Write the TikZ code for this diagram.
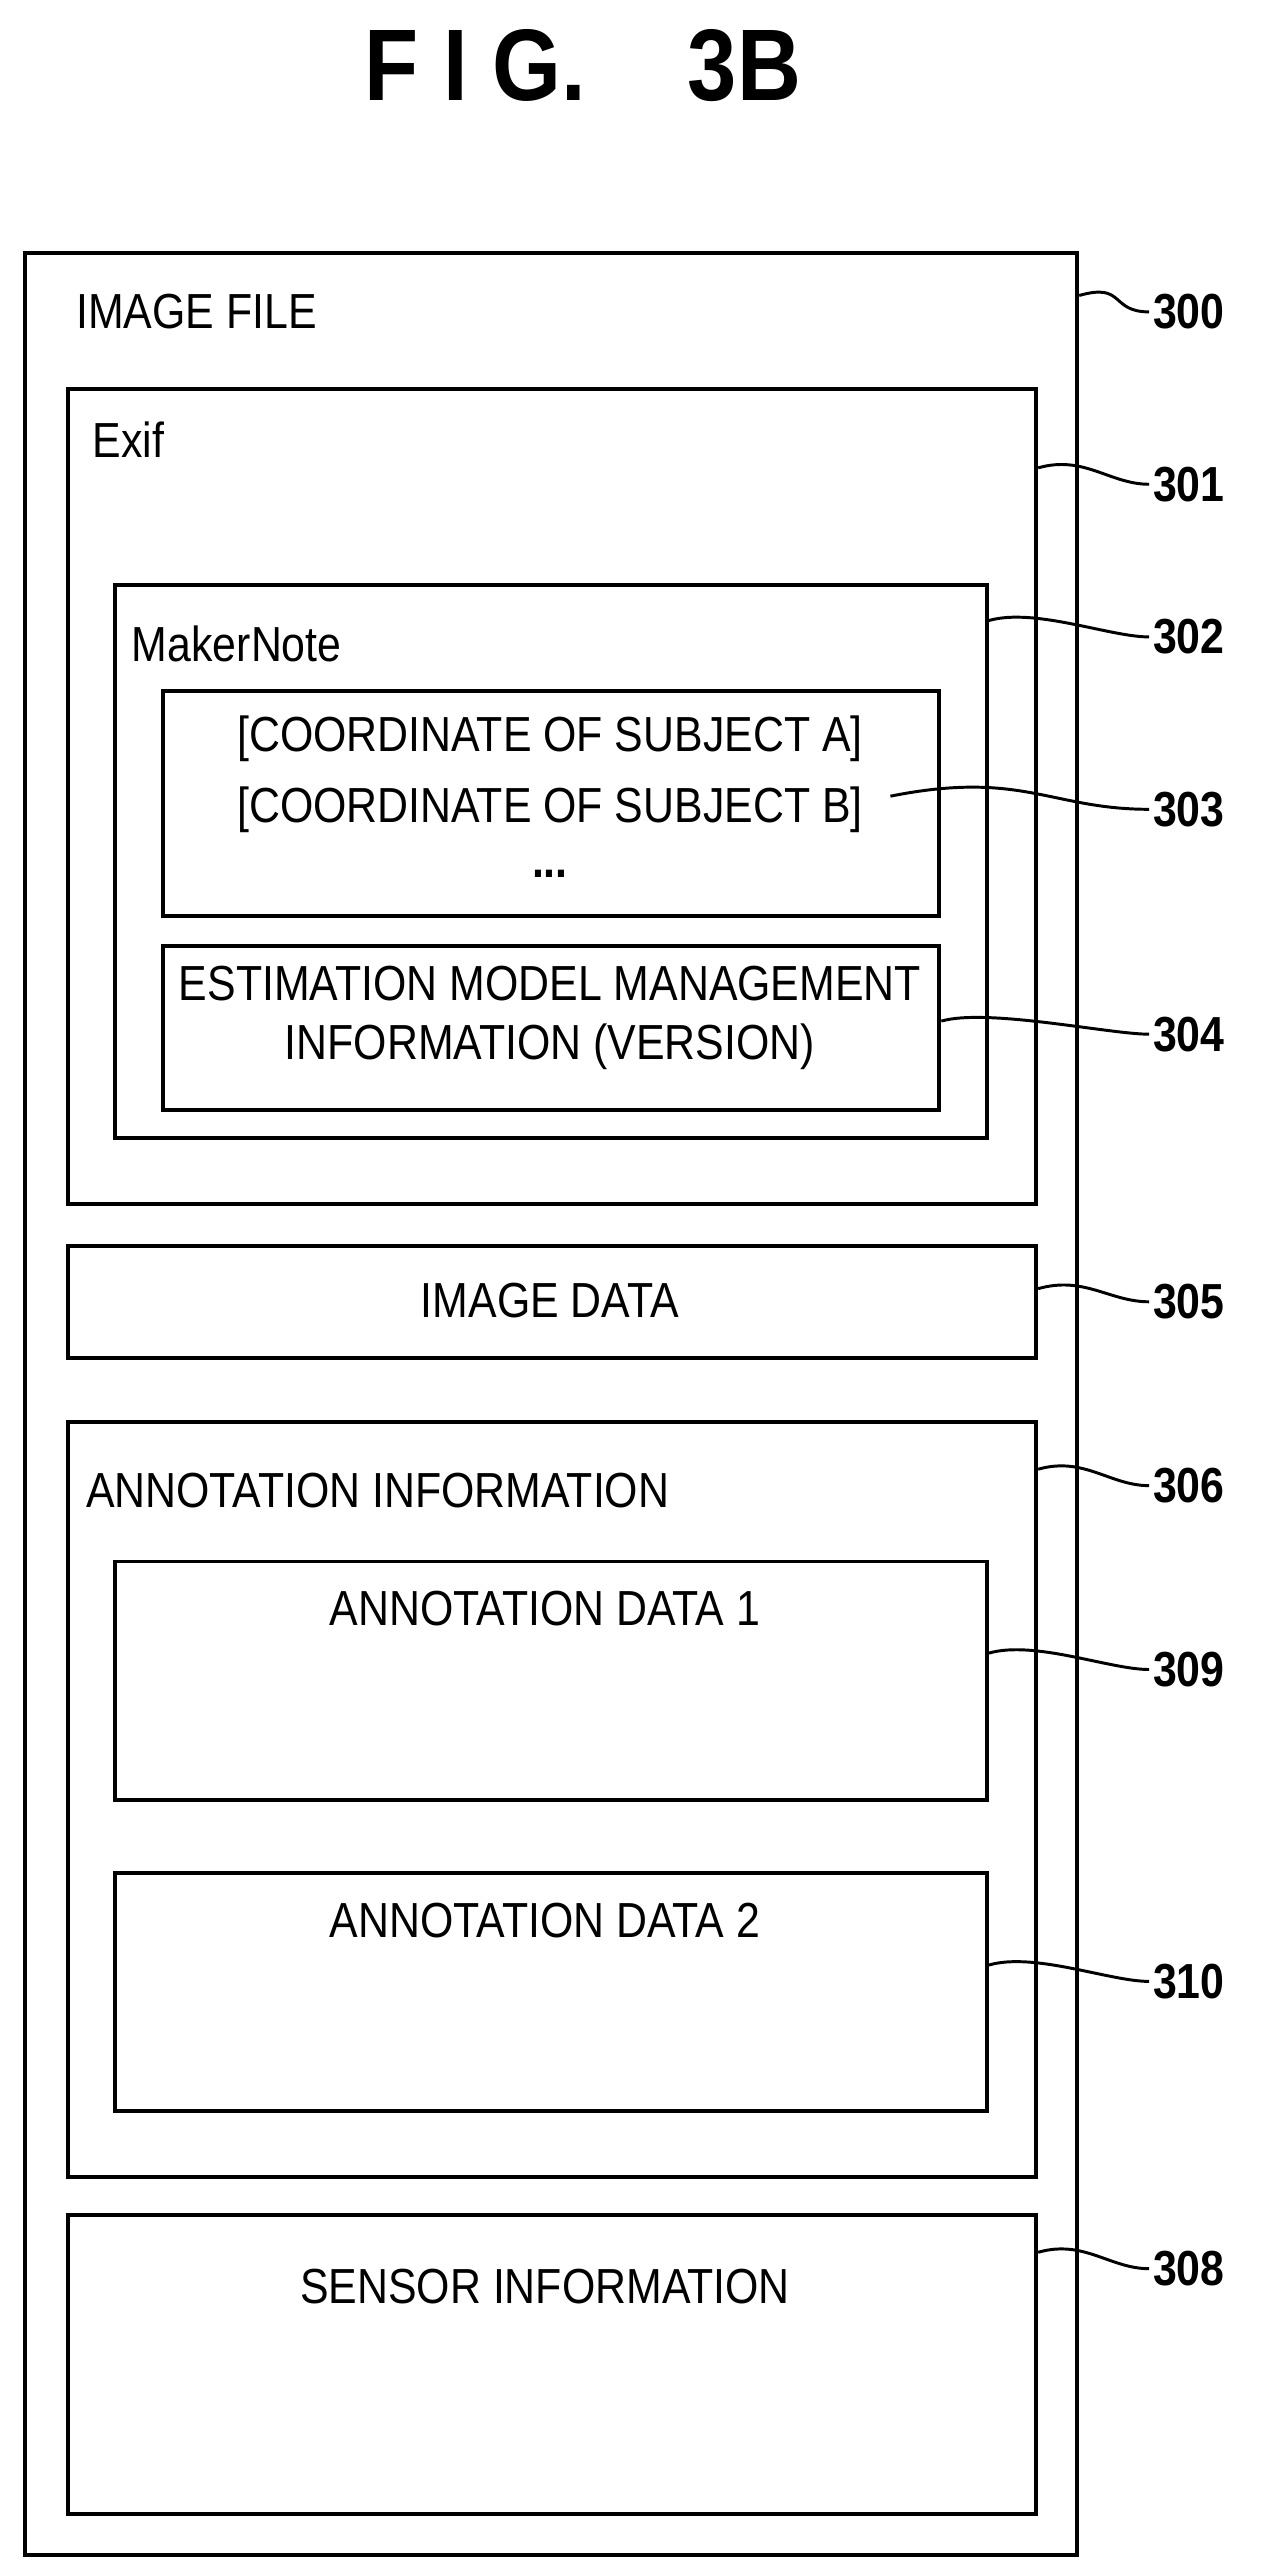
\documentclass[tikz,border=0pt]{standalone}
\usepackage{fontspec}
\setmainfont[FakeStretch=0.87]{Liberation Sans}
\usetikzlibrary{positioning,calc}
\tikzstyle{box}=[rectangle,draw,line width=1.2pt,anchor=north west,inner sep=0pt]
\tikzstyle{txt}=[inner sep=0pt,font=\fontsize{15}{18}\selectfont]
\tikzstyle{ref}=[inner sep=1pt,anchor=west,font=\fontsize{15}{18}\selectfont\bfseries]
\tikzstyle{lead}=[line width=0.9pt]
\begin{document}
\begin{tikzpicture}[x=0.5pt,y=-0.5pt]
\useasboundingbox (0,0) rectangle (770,1568.6);

\node[font=\fontsize{31}{36}\selectfont\bfseries] (title) at (355,40) {F I G.\quad 3B};

% boxes
\node[box,minimum width=320.5pt,minimum height=701pt] (file) at (14,153) {};
\node[box,minimum width=295pt,minimum height=248pt] (exif) at (40,236) {};
\node[box,minimum width=265.5pt,minimum height=168.5pt] (maker) at (69,355) {};
\node[box,minimum width=236.5pt,minimum height=68.5pt] (coord) at (98,420) {};
\node[box,minimum width=236.5pt,minimum height=50pt] (model) at (98,575) {};
\node[box,minimum width=295pt,minimum height=34pt] (data) at (40,758) {};
\node[box,minimum width=295pt,minimum height=230pt] (annot) at (40,865) {};
\node[box,minimum width=265.5pt,minimum height=72.5pt] (ann1) at (69,950) {};
\node[box,minimum width=265.5pt,minimum height=72.5pt] (ann2) at (69,1140) {};
\node[box,minimum width=295pt,minimum height=91pt] (sensor) at (40,1348) {};

% texts
\node[txt,anchor=west] at (46,190) {IMAGE FILE};
\node[txt,anchor=west] at (56,268) {Exif};
\node[txt,anchor=west] at (80,392) {MakerNote};
\node[txt] at (335,450) {[COORDINATE OF SUBJECT A]};
\node[txt] at (335,493) {[COORDINATE OF SUBJECT B]};
\node[txt,font=\fontsize{15}{18}\selectfont\bfseries] at (335,532) {...};
\node[txt,align=center] at (335,620) {ESTIMATION MODEL MANAGEMENT\\INFORMATION (VERSION)};
\node[txt] at (335,792) {IMAGE DATA};
\node[txt,anchor=west] at (52,908) {ANNOTATION INFORMATION};
\node[txt] at (332,980) {ANNOTATION DATA 1};
\node[txt] at (332,1170) {ANNOTATION DATA 2};
\node[txt] at (332,1393) {SENSOR INFORMATION};

% reference numerals
\node[ref] (l300) at (700,190) {300};
\node[ref] (l301) at (700,295) {301};
\node[ref] (l302) at (700,388) {302};
\node[ref] (l303) at (700,493) {303};
\node[ref] (l304) at (700,630) {304};
\node[ref] (l305) at (700,793) {305};
\node[ref] (l306) at (700,905) {306};
\node[ref] (l309) at (700,1017) {309};
\node[ref] (l310) at (700,1207) {310};
\node[ref] (l308) at (700,1382) {308};

% leaders
\foreach \b/\d/\l in {file/13.5/l300,exif/24.5/l301,maker/11.5/l302,model/23.5/l304,data/13.5/l305,annot/15/l306,ann1/28.5/l309,ann2/28.5/l310,sensor/12/l308}
  \draw[lead] ($(\b.north east)+(0,-\d pt)$) .. controls +(14pt,4pt) and +(-12pt,0pt) .. (\l.west);
\draw[lead] ($(coord.north east)+(-15.5pt,-32.5pt)$) .. controls +(40pt,8pt) and +(-30pt,0pt) .. (l303.west);
\end{tikzpicture}
\end{document}
